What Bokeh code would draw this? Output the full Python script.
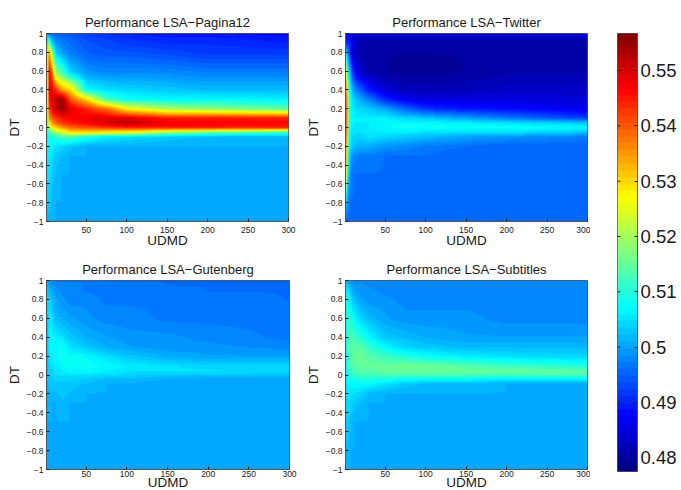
import numpy as np
from bokeh.embed import file_html
from bokeh.resources import INLINE
from bokeh.plotting import figure
from bokeh.layouts import row, column
from bokeh.models import LinearColorMapper, FixedTicker, LinearAxis, Range1d

udmd = [1, 3, 7, 12, 20, 30, 50, 75, 100, 150, 200, 300]
dt = [1, .96, .9, .8, .6, .4, .3, .2, .1, .05, 0, -.05, -.1, -.2, -.3, -.5, -.8, -1]

# Performance values, in thousandths; one row per dt, one column per udmd
pagina12 = [
    [500, 498, 496, 495, 494, 494, 492, 491, 490, 489, 489, 488],
    [503, 508, 499, 497, 496, 495, 493, 492, 491, 490, 490, 489],
    [506, 522, 505, 499, 497, 496, 494, 493, 492, 491, 491, 490],
    [508, 542, 520, 504, 500, 497, 495, 494, 494, 493, 492, 492],
    [510, 549, 540, 518, 512, 504, 499, 498, 498, 498, 497, 497],
    [510, 548, 549, 543, 534, 530, 507, 505, 504, 503, 502, 502],
    [510, 546, 549, 551, 555, 540, 530, 512, 508, 507, 507, 506],
    [510, 540, 547, 551, 555, 549, 544, 538, 527, 520, 518, 514],
    [510, 532, 540, 543, 546, 547, 548, 549, 549, 545, 545, 545],
    [509, 526, 535, 539, 543, 545, 547, 550, 552, 548, 547, 546],
    [508, 520, 528, 531, 535, 539, 541, 543, 545, 545, 545, 545],
    [506, 513, 515, 520, 524, 529, 530, 528, 527, 520, 516, 512],
    [505, 509, 509, 510, 513, 513, 509, 506, 505, 503, 502, 502],
    [505, 508, 507, 505, 504, 503, 501, 501, 501, 501, 501, 501],
    [505, 507, 505, 503, 502, 501, 501, 501, 501, 501, 501, 501],
    [504, 506, 503, 502, 501, 501, 501, 501, 501, 501, 501, 501],
    [503, 504, 502, 501, 501, 501, 501, 501, 501, 501, 501, 501],
    [501, 502, 501, 501, 501, 501, 501, 501, 501, 501, 501, 501],
]
twitter = [
    [488, 488, 486, 485, 485, 485, 485, 485, 485, 485, 485, 485],
    [489, 490, 485, 483, 482, 482, 482, 482, 482, 482, 482, 482],
    [490, 492, 489, 484, 481, 480, 480, 480, 480, 480, 480, 480],
    [505, 500, 487, 482, 481, 480, 480, 480, 480, 480, 480, 480],
    [525, 510, 498, 487, 483, 481, 480, 479.6, 479.6, 480, 481, 481],
    [540, 518, 505, 498, 494, 489, 484, 482, 482, 482, 483, 483],
    [544, 520, 507, 503, 500, 497, 490, 486, 485, 485, 485, 484],
    [545, 521, 508, 505, 504, 503, 500, 495, 491, 489, 488, 486],
    [545, 520, 508, 506, 506, 506, 506, 504, 503, 500, 497, 492],
    [545, 520, 508, 506, 506, 506, 507, 507, 507, 506, 505, 503],
    [545, 519, 507, 505, 505, 506, 507, 508, 508, 508, 508, 507],
    [544, 518, 506, 505, 505, 505, 506, 506, 505, 505, 505, 503],
    [542, 517, 505, 504, 504, 505, 504, 503, 502, 500, 499, 497],
    [540, 516, 504, 502, 501, 501, 499, 498, 497, 496, 495, 495],
    [536, 513, 500, 498, 497, 497, 496, 496, 496, 495, 495, 495],
    [528, 508, 497, 496, 496, 496, 496, 496, 496, 496, 496, 496],
    [505, 498, 496, 496, 496, 496, 496, 496, 496, 496, 496, 496],
    [495, 495, 496, 496, 496, 496, 496, 496, 496, 496, 496, 496],
]
gutenberg = [
    [500, 499, 498, 497, 497, 497, 497, 496, 496, 496, 496, 496],
    [502, 500, 499, 498, 498, 498, 497, 497, 497, 496, 496, 496],
    [503, 503, 500, 499, 498, 498, 497, 497, 497, 497, 496, 496],
    [503, 505, 502, 500, 499, 498, 498, 497, 497, 497, 497, 496],
    [502, 506, 505, 502, 501, 500, 499, 498, 498, 497, 497, 497],
    [502, 506, 507, 506, 505, 503, 501, 500, 499, 499, 498, 497],
    [502, 506, 507, 507, 508, 505, 503, 501, 500, 499, 499, 498],
    [502, 505, 506, 507, 508, 508, 507, 505, 503, 501, 500, 500],
    [502, 504, 505, 506, 507, 508, 508, 507, 506, 505, 504, 504],
    [502, 504, 504, 505, 506, 507, 507, 506, 505, 505, 505, 504],
    [502, 503, 504, 505, 505, 505, 505, 505, 504, 503, 503, 503],
    [502, 503, 503, 504, 504, 504, 503, 502, 502, 501, 500, 500],
    [501, 503, 503, 503, 503, 503, 502, 501, 501, 500, 500, 500],
    [501, 502, 502, 502, 503, 502, 501, 501, 500, 500, 500, 500],
    [501, 502, 501, 501, 502, 501, 501, 501, 501, 501, 501, 501],
    [501, 501, 501, 501, 501, 501, 501, 501, 501, 501, 501, 501],
    [501, 501, 501, 501, 501, 501, 501, 501, 501, 501, 501, 501],
    [501, 501, 501, 501, 501, 501, 501, 501, 501, 501, 501, 501],
]
subtitles = [
    [501, 500, 499, 498, 498, 498, 498, 498, 498, 498, 498, 498],
    [504, 503, 500, 499, 499, 498, 498, 498, 498, 498, 498, 498],
    [505, 507, 502, 500, 499, 499, 498, 498, 498, 498, 498, 498],
    [506, 510, 505, 502, 500, 499, 499, 498, 498, 498, 498, 498],
    [507, 512, 510, 507, 504, 502, 500, 499, 499, 499, 498, 498],
    [507, 513, 513, 512, 510, 507, 503, 502, 501, 500, 500, 500],
    [507, 513, 514, 514, 514, 511, 507, 504, 503, 502, 502, 502],
    [507, 512, 514, 515, 516, 514, 512, 510, 508, 506, 505, 504],
    [507, 511, 513, 514, 515, 515, 515, 516, 516, 514, 512, 510],
    [506, 510, 512, 513, 514, 514, 515, 515, 515, 515, 515, 514],
    [506, 509, 511, 511, 512, 512, 513, 513, 513, 513, 513, 513],
    [505, 508, 509, 509, 510, 510, 509, 508, 508, 507, 506, 506],
    [505, 507, 507, 507, 507, 507, 505, 503, 502, 502, 501, 501],
    [504, 506, 505, 505, 504, 502, 501, 501, 501, 501, 501, 501],
    [504, 505, 504, 503, 502, 501, 501, 501, 501, 501, 501, 501],
    [503, 504, 502, 501, 501, 501, 501, 501, 501, 501, 501, 501],
    [502, 502, 501, 501, 501, 501, 501, 501, 501, 501, 501, 501],
    [501, 501, 501, 501, 501, 501, 501, 501, 501, 501, 501, 501],
]
titles = ["Performance LSA\u2212Pagina12", "Performance LSA\u2212Twitter",
          "Performance LSA\u2212Gutenberg", "Performance LSA\u2212Subtitles"]
x_ticks = [50, 100, 150, 200, 250, 300]
y_ticks = [-1, -.8, -.6, -.4, -.2, 0, .2, .4, .6, .8, 1]
cb_ticks = [.48, .49, .5, .51, .52, .53, .54, .55]
cb_low, cb_high = 0.4775, 0.5567

FONT = "Liberation Sans"
TXT = "#1a1a1a"
BOX = "#555555"


def jet(n=64):
    out = []
    for f in (np.arange(n) + .5) / n:
        r = np.clip(min(4 * f - 1.5, -4 * f + 4.5), 0, 1)
        g = np.clip(min(4 * f - .5, -4 * f + 3.5), 0, 1)
        b = np.clip(min(4 * f + .5, -4 * f + 2.5), 0, 1)
        out.append("#%02x%02x%02x" % (int(r * 255), int(g * 255), int(b * 255)))
    return out


mapper = LinearColorMapper(palette=jet(), low=cb_low, high=cb_high)


def shade(grid):
    """Bilinear display shading of the read knots (MATLAB's 'shading interp')."""
    g = np.array(grid, float) / 1000
    ys = np.array(dt)[::-1]
    g = g[::-1]
    fx = np.linspace(1, 300, 300)
    fy = np.linspace(-1, 1, 190)
    a = np.array([np.interp(fx, udmd, r) for r in g])
    return np.array([np.interp(fy, ys, c) for c in a.T]).T


def style(p, bottom_row):
    p.xaxis.ticker = FixedTicker(ticks=x_ticks)
    p.yaxis.ticker = FixedTicker(ticks=y_ticks)
    p.yaxis.major_label_overrides = {
        t: ("%g" % t).replace("-", "\u2212") for t in y_ticks}
    for ax in (p.xaxis[0], p.yaxis[0]):
        ax.major_tick_in = 3
        ax.major_tick_out = 0
        ax.minor_tick_line_color = None
        ax.major_tick_line_color = "#222222"
        ax.axis_line_color = BOX
        ax.major_label_text_font = FONT
        ax.major_label_text_font_size = "8.5px"
        ax.major_label_text_color = TXT
        ax.major_label_standoff = 3
        ax.axis_label_text_font = FONT
        ax.axis_label_text_font_style = "normal"
        ax.axis_label_text_font_size = "13.5px"
        ax.axis_label_text_color = TXT
        ax.axis_label_standoff = 2
    p.xaxis[0].major_label_standoff = 1 if bottom_row else 5
    p.xaxis[0].axis_label_standoff = -5 if bottom_row else -3
    p.xaxis.axis_label = "UDMD"
    p.yaxis.axis_label = "DT"
    p.grid.visible = False
    p.title.text_font = FONT
    p.title.text_font_style = "normal"
    p.title.text_font_size = "13px"
    p.title.text_color = TXT
    p.title.align = "center"
    p.title.standoff = 7
    p.outline_line_color = BOX
    p.background_fill_color = None
    p.border_fill_color = None


def panel(grid, title, left, right, top, bottom, fw, fh, bottom_row):
    p = figure(title=title, output_backend="svg", toolbar_location=None,
               x_range=Range1d(1, 300), y_range=Range1d(-1, 1),
               frame_width=fw, frame_height=fh,
               min_border_left=left, min_border_right=right,
               min_border_top=top, min_border_bottom=bottom)
    p.image(image=[shade(grid)], x=1, y=-1, dw=299, dh=2, color_mapper=mapper)
    style(p, bottom_row)
    return p


p1 = panel(pagina12, titles[0], 46, 9, 33, 34, 242, 188, False)
p2 = panel(twitter, titles[1], 48, 3, 33, 34, 242, 188, False)
p3 = panel(gutenberg, titles[2], 46, 8, 25, 21, 243, 189, True)
p4 = panel(subtitles, titles[3], 48, 3, 25, 21, 242, 189, True)

cb = figure(output_backend="svg", toolbar_location=None,
            x_range=Range1d(0, 1), y_range=Range1d(cb_low, cb_high),
            frame_width=20, frame_height=438,
            min_border_left=27, min_border_right=42, min_border_top=33, min_border_bottom=19)
levels = np.linspace(cb_low, cb_high, 64).reshape(-1, 1)
cb.image(image=[levels], x=0, y=cb_low, dw=1, dh=cb_high - cb_low, color_mapper=mapper)
cb.grid.visible = False
cb.xaxis.visible = False
cb.yaxis.visible = False
cb.outline_line_color = BOX
cb.segment(x0=[0] * len(cb_ticks), y0=cb_ticks, x1=[.15] * len(cb_ticks), y1=cb_ticks,
           line_color="#222222", line_width=1)
ax = LinearAxis(ticker=FixedTicker(ticks=cb_ticks))
ax.major_tick_in = 3
ax.major_tick_out = 0
ax.minor_tick_line_color = None
ax.axis_line_color = BOX
ax.major_tick_line_color = "#222222"
ax.major_label_overrides = {t: "%g" % t for t in cb_ticks}
ax.major_label_text_font = FONT
ax.major_label_text_font_size = "18.5px"
ax.major_label_text_color = TXT
ax.major_label_standoff = 3
cb.add_layout(ax, "right")

page = row(column(p1, p3), column(p2, p4), cb, spacing=0)
open("out.html", "w").write(file_html(page, INLINE))
